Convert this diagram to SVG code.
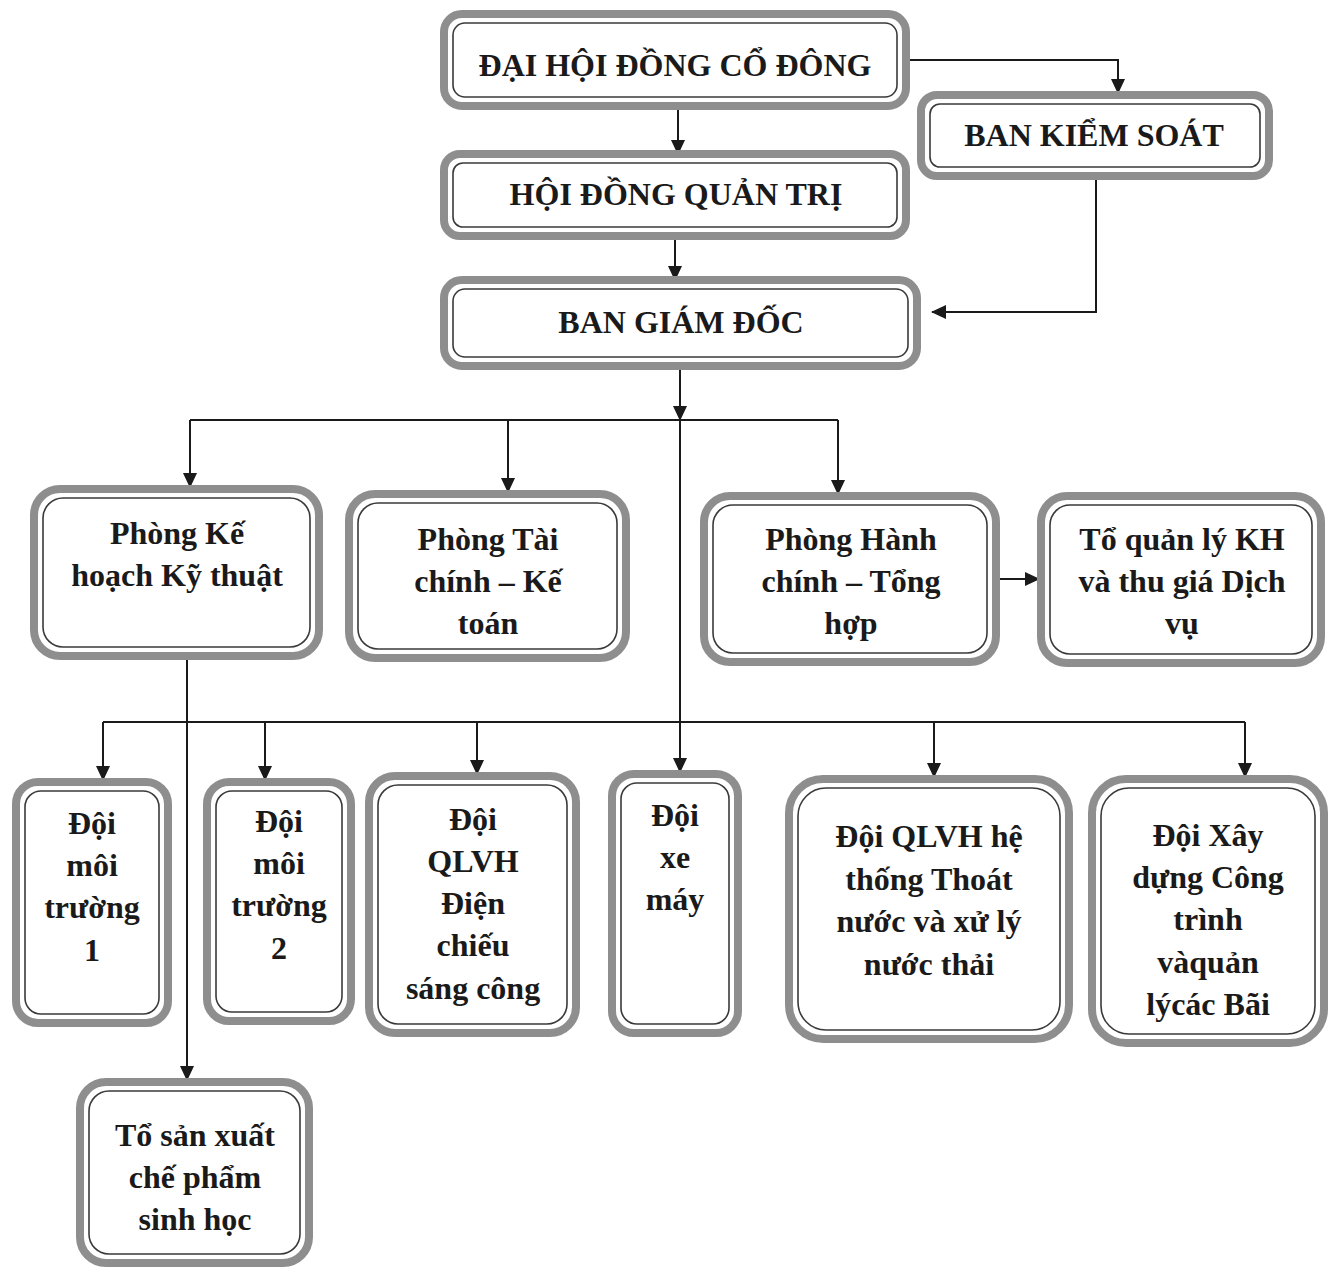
<svg xmlns="http://www.w3.org/2000/svg" width="1336" height="1267" viewBox="0 0 1336 1267">
<style>
.o{fill:#fff;stroke:#8e8e8e;stroke-width:8}
.i{fill:none;stroke:#3a3a3a;stroke-width:1.6}
.t{font-family:'Liberation Serif','DejaVu Serif',serif;font-weight:700;fill:#1a1a1a;text-anchor:middle}
.h{font-size:32px}
.b{font-size:32px}
.c{fill:none;stroke:#1a1a1a;stroke-width:2}
</style>
<defs>
<marker id="a" markerUnits="userSpaceOnUse" markerWidth="16" markerHeight="16" refX="14" refY="8" orient="auto">
<path d="M0,1 L15,8 L0,15 Z" fill="#1a1a1a"/>
</marker>
</defs>
<rect width="1336" height="1267" fill="#fff"/>
<g id="connectors">
<path class="c" d="M906 60 H1118 V93" marker-end="url(#a)"/>
<path class="c" d="M678 110 V154" marker-end="url(#a)"/>
<path class="c" d="M675 236 V280" marker-end="url(#a)"/>
<path class="c" d="M1096 176 V312 H932" marker-end="url(#a)"/>
<path class="c" d="M680 366 V420" marker-end="url(#a)"/>
<path class="c" d="M680 420 V772" marker-end="url(#a)"/>
<path class="c" d="M190 420 H838"/>
<path class="c" d="M190 420 V487" marker-end="url(#a)"/>
<path class="c" d="M508 420 V492" marker-end="url(#a)"/>
<path class="c" d="M838 420 V494" marker-end="url(#a)"/>
<path class="c" d="M996 579 H1039" marker-end="url(#a)"/>
<path class="c" d="M187 656 V1080" marker-end="url(#a)"/>
<path class="c" d="M103 722 H1245"/>
<path class="c" d="M103 722 V780" marker-end="url(#a)"/>
<path class="c" d="M265 722 V780" marker-end="url(#a)"/>
<path class="c" d="M477 722 V774" marker-end="url(#a)"/>
<path class="c" d="M934 722 V777" marker-end="url(#a)"/>
<path class="c" d="M1245 722 V777" marker-end="url(#a)"/>
</g>
<g id="dhdcd">
<rect class="o" x="444" y="14" width="462" height="92" rx="18"/>
<rect class="i" x="453" y="23" width="444" height="74" rx="12"/>
<text class="t h" x="675" y="76">ĐẠI HỘI ĐỒNG CỔ ĐÔNG</text>
</g>
<g id="bks">
<rect class="o" x="921" y="95" width="348" height="81" rx="16"/>
<rect class="i" x="930" y="104" width="330" height="63" rx="10"/>
<text class="t h" x="1094" y="146">BAN KIỂM SOÁT</text>
</g>
<g id="hdqt">
<rect class="o" x="444" y="154" width="462" height="82" rx="16"/>
<rect class="i" x="453" y="163" width="444" height="64" rx="10"/>
<text class="t h" x="676" y="205">HỘI ĐỒNG QUẢN TRỊ</text>
</g>
<g id="bgd">
<rect class="o" x="444" y="280" width="473" height="86" rx="18"/>
<rect class="i" x="453" y="289" width="455" height="68" rx="12"/>
<text class="t h" x="681" y="333">BAN GIÁM ĐỐC</text>
</g>
<g id="pkhkt">
<rect class="o" x="34" y="489" width="285" height="167" rx="26"/>
<rect class="i" x="43" y="498" width="267" height="149" rx="20"/>
<text class="t b" x="177" y="544">Phòng Kế</text>
<text class="t b" x="177" y="586">hoạch Kỹ thuật</text>
</g>
<g id="ptckt">
<rect class="o" x="349" y="494" width="277" height="164" rx="26"/>
<rect class="i" x="358" y="503" width="259" height="146" rx="20"/>
<text class="t b" x="488" y="550">Phòng Tài</text>
<text class="t b" x="488" y="592">chính – Kế</text>
<text class="t b" x="488" y="634">toán</text>
</g>
<g id="phcth">
<rect class="o" x="704" y="496" width="292" height="166" rx="26"/>
<rect class="i" x="713" y="505" width="274" height="148" rx="20"/>
<text class="t b" x="851" y="550">Phòng Hành</text>
<text class="t b" x="851" y="592">chính – Tổng</text>
<text class="t b" x="851" y="634">hợp</text>
</g>
<g id="tql">
<rect class="o" x="1041" y="496" width="280" height="167" rx="26"/>
<rect class="i" x="1050" y="505" width="262" height="149" rx="20"/>
<text class="t b" x="1182" y="550">Tổ quản lý KH</text>
<text class="t b" x="1182" y="592">và thu giá Dịch</text>
<text class="t b" x="1182" y="634">vụ</text>
</g>
<g id="dmt1">
<rect class="o" x="16" y="782" width="152" height="241" rx="22"/>
<rect class="i" x="25" y="791" width="134" height="223" rx="16"/>
<text class="t b" x="92" y="834">Đội</text>
<text class="t b" x="92" y="876">môi</text>
<text class="t b" x="92" y="918">trường</text>
<text class="t b" x="92" y="961">1</text>
</g>
<g id="dmt2">
<rect class="o" x="207" y="782" width="144" height="239" rx="22"/>
<rect class="i" x="216" y="791" width="126" height="221" rx="16"/>
<text class="t b" x="279" y="832">Đội</text>
<text class="t b" x="279" y="874">môi</text>
<text class="t b" x="279" y="916">trường</text>
<text class="t b" x="279" y="959">2</text>
</g>
<g id="dqlvhd">
<rect class="o" x="369" y="776" width="207" height="257" rx="26"/>
<rect class="i" x="378" y="785" width="189" height="239" rx="20"/>
<text class="t b" x="473" y="830">Đội</text>
<text class="t b" x="473" y="872">QLVH</text>
<text class="t b" x="473" y="914">Điện</text>
<text class="t b" x="473" y="956">chiếu</text>
<text class="t b" x="473" y="999">sáng công</text>
</g>
<g id="dxm">
<rect class="o" x="612" y="774" width="126" height="259" rx="22"/>
<rect class="i" x="621" y="783" width="108" height="241" rx="16"/>
<text class="t b" x="675" y="826">Đội</text>
<text class="t b" x="675" y="868">xe</text>
<text class="t b" x="675" y="910">máy</text>
</g>
<g id="dqlvhtn">
<rect class="o" x="789" y="779" width="280" height="260" rx="34"/>
<rect class="i" x="798" y="788" width="262" height="242" rx="28"/>
<text class="t b" x="929" y="847">Đội QLVH hệ</text>
<text class="t b" x="929" y="890">thống Thoát</text>
<text class="t b" x="929" y="932">nước và xử lý</text>
<text class="t b" x="929" y="975">nước thải</text>
</g>
<g id="dxd">
<rect class="o" x="1092" y="779" width="232" height="264" rx="34"/>
<rect class="i" x="1101" y="788" width="214" height="246" rx="28"/>
<text class="t b" x="1208" y="846">Đội Xây</text>
<text class="t b" x="1208" y="888">dựng Công</text>
<text class="t b" x="1208" y="930">trình</text>
<text class="t b" x="1208" y="973">vàquản</text>
<text class="t b" x="1208" y="1015">lýcác Bãi</text>
</g>
<g id="tsx">
<rect class="o" x="80" y="1082" width="229" height="181" rx="26"/>
<rect class="i" x="89" y="1091" width="211" height="163" rx="20"/>
<text class="t b" x="195" y="1146">Tổ sản xuất</text>
<text class="t b" x="195" y="1188">chế phẩm</text>
<text class="t b" x="195" y="1230">sinh học</text>
</g>
</svg>
